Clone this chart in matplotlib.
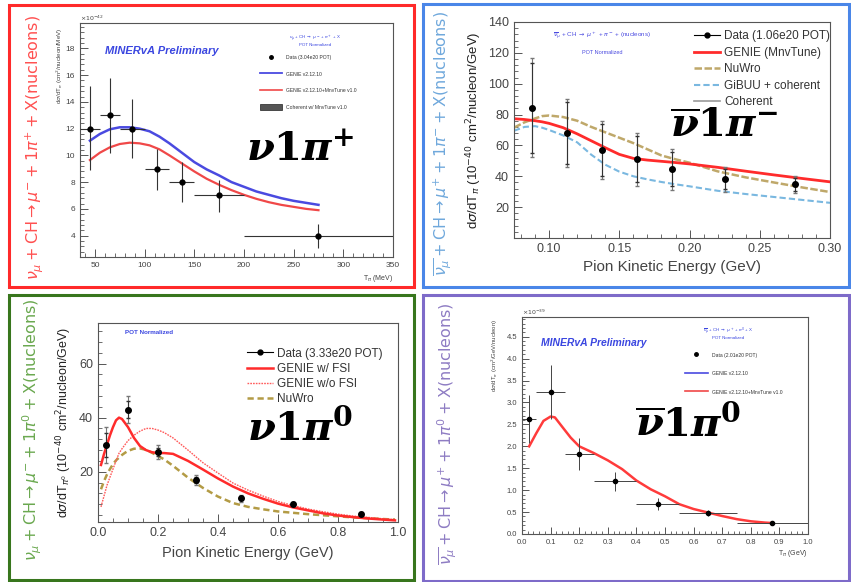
import matplotlib
matplotlib.use("Agg")
import matplotlib.pyplot as plt
from matplotlib.lines import Line2D
from matplotlib.patches import Rectangle, Patch
from matplotlib.ticker import MultipleLocator
import numpy as np

plt.rcParams['font.family'] = ['Liberation Sans', 'DejaVu Sans']

# ---------------- Panel 1: nu 1pi+ (MINERvA, MeV) ----------------
p1_data_x = [45, 65, 87.5, 112.5, 137.5, 175, 275]
p1_bin_lo = [35, 55, 75, 100, 125, 150, 200]
p1_bin_hi = [55, 75, 100, 125, 150, 200, 350]
p1_data_y = [12, 13, 12, 9, 8, 7, 4]
p1_err_lo = [8.9, 10.2, 9.8, 7.4, 6.5, 5.8, 3.1]
p1_err_hi = [15.2, 15.8, 14.2, 10.5, 9.5, 8.15, 4.9]
p1_curve_x = [45, 55, 65, 75, 85, 95, 105, 115, 125, 137.5, 150, 162.5, 175,
              187.5, 200, 212.5, 225, 237.5, 250, 262.5, 275]
p1_genie = [11.1, 11.6, 11.95, 12.1, 12.1, 12.0, 11.8, 11.4, 10.9, 10.2, 9.5,
            8.95, 8.5, 8.0, 7.65, 7.3, 7.05, 6.8, 6.6, 6.45, 6.3]
p1_tune = [9.65, 10.2, 10.6, 10.85, 10.95, 10.9, 10.75, 10.45, 10.0, 9.4, 8.8,
           8.25, 7.8, 7.4, 7.05, 6.75, 6.5, 6.3, 6.15, 6.0, 5.9]

# ---------------- Panel 2: nubar 1pi- ----------------
p2_data_x = [0.0875, 0.1125, 0.1375, 0.1625, 0.1875, 0.225, 0.275]
p2_data_y = [84.4, 68.0, 57.0, 51.0, 44.5, 38.0, 34.7]
p2_err_tot = [32, 22, 19, 17, 13.5, 8, 5.5]
p2_err_stat = [29, 20, 17, 15, 11, 6.5, 4]
p2_curve_x = [0.075, 0.0825, 0.09, 0.095, 0.10, 0.11, 0.12, 0.13, 0.14, 0.15,
              0.16, 0.17, 0.18, 0.19, 0.20, 0.22, 0.24, 0.26, 0.28, 0.30]
p2_genie = [77.3, 76.8, 76.0, 75.3, 74.3, 71.5, 67.5, 63.0, 58.5, 54.2,
            51.6, 50.5, 49.7, 48.9, 48.0, 45.8, 43.3, 40.9, 38.6, 36.4]
p2_nuwro = [71.5, 75.0, 77.5, 79.0, 79.4, 78.4, 76.0, 72.0, 68.5, 65.0,
            61.5, 57.5, 53.5, 51.0, 48.8, 43.2, 39.3, 36.0, 32.8, 29.8]
p2_gibuu = [69.5, 72.0, 72.5, 71.5, 70.0, 66.5, 62.0, 54.0, 47.5, 43.0,
            40.0, 38.0, 36.3, 34.8, 33.5, 30.6, 28.5, 26.6, 24.7, 22.8]

# ---------------- Panel 3: nu 1pi0 ----------------
p3_data_x = [0.025, 0.1, 0.2, 0.325, 0.475, 0.65, 0.875]
p3_data_y = [29.9, 42.9, 27.2, 16.9, 10.1, 8.0, 4.5]
p3_err_tot = [6.8, 5.0, 2.5, 1.8, 1.2, 0.8, 0.6]
p3_err_stat = [4.5, 3.2, 1.5, 1.1, 0.7, 0.5, 0.4]
p3_curve_x = [0.01, 0.02, 0.03, 0.04, 0.05, 0.06, 0.07, 0.08, 0.09, 0.10, 0.12,
              0.14, 0.16, 0.18, 0.20, 0.22, 0.25, 0.30, 0.35, 0.40, 0.45, 0.50,
              0.55, 0.60, 0.65, 0.70, 0.75, 0.80, 0.85, 0.90, 0.95, 0.99]
p3_fsi = [22.5, 26.5, 30.0, 33.5, 36.5, 39.0, 40.0, 39.5, 38.0, 36.5, 32.5,
          29.5, 28.0, 27.2, 26.9, 26.9, 26.6, 24.0, 20.8, 17.5, 14.5, 12.0,
          10.0, 8.2, 6.8, 5.7, 4.6, 3.8, 3.2, 2.7, 2.3, 2.0]
p3_nofsi = [7.0, 11.0, 15.0, 18.0, 21.0, 24.0, 26.8, 28.5, 30.0, 31.5, 33.5,
            35.0, 36.0, 36.0, 35.4, 34.5, 32.5, 28.0, 23.3, 19.5, 15.8, 13.2,
            11.0, 9.0, 7.5, 6.2, 5.2, 4.3, 3.6, 3.1, 2.6, 2.3]
p3_nuwro = [13.5, 16.5, 19.0, 21.0, 22.8, 24.2, 25.2, 26.2, 27.0, 27.7, 28.5,
            28.6, 28.1, 27.0, 25.8, 24.6, 22.2, 17.8, 14.0, 10.8, 8.4, 7.0,
            6.1, 5.3, 4.8, 4.3, 3.9, 3.5, 3.1, 2.8, 2.5, 2.3]

# ---------------- Panel 4: nubar 1pi0 ----------------
p4_data_x = [0.025, 0.1, 0.2, 0.325, 0.475, 0.65, 0.875]
p4_bin_lo = [0.0, 0.05, 0.15, 0.25, 0.4, 0.55, 0.75]
p4_bin_hi = [0.05, 0.15, 0.25, 0.4, 0.55, 0.75, 1.0]
p4_data_y = [2.62, 3.24, 1.82, 1.20, 0.68, 0.48, 0.26]
p4_err = [0.55, 0.62, 0.36, 0.22, 0.13, 0.06, 0.04]
p4_curve_x = [0.025, 0.05, 0.075, 0.1, 0.115, 0.14, 0.17, 0.2, 0.25, 0.3, 0.35,
              0.4, 0.45, 0.5, 0.55, 0.6, 0.65, 0.7, 0.75, 0.8, 0.85, 0.875]
p4_tune = [2.0, 2.3, 2.58, 2.68, 2.66, 2.45, 2.2, 2.0, 1.85, 1.68, 1.48,
           1.22, 1.02, 0.86, 0.68, 0.57, 0.49, 0.41, 0.34, 0.29, 0.26, 0.25]

W, H = 851, 582
fig = plt.figure(figsize=(W / 100, H / 100), dpi=100)


def px_axes(l, t, r, b):
    return fig.add_axes([l / W, 1 - b / H, (r - l) / W, (b - t) / H])


def style(ax, fs, major_len=6, minor_len=3):
    for s in ax.spines.values():
        s.set_color('#555555')
        s.set_linewidth(0.8)
    ax.tick_params(which='both', direction='in', color='#555555',
                   labelcolor='#444444', labelsize=fs, top=False, right=False)
    ax.tick_params(which='major', length=major_len, width=0.7)
    ax.tick_params(which='minor', length=minor_len, width=0.6)


def border(l, t, r, b, color):
    fig.patches.append(Rectangle((l / W, 1 - b / H), (r - l) / W, (b - t) / H,
                                 transform=fig.transFigure, fill=False,
                                 edgecolor=color, linewidth=2.2))


def side_label(x, y, s, color):
    fig.text(x / W, 1 - y / H, s, rotation=90, ha='center', va='center',
             color=color, fontsize=11.5, math_fontfamily='dejavusans')


def big_label(x, y, s):
    fig.text(x / W, 1 - y / H, s, ha='center', va='center', color='black',
             fontsize=29, math_fontfamily='dejavuserif')


# borders
border(8.5, 5.5, 414, 287, '#ff2a2a')
border(423, 3.5, 848.5, 287, '#4a86e8')
border(8.5, 294.5, 414, 580, '#38761d')
border(423, 294.5, 848.5, 580.5, '#7e6bc9')

# ---------------- Panel 1 ----------------
ax1 = px_axes(80, 23, 393, 257)
x = np.array(p1_data_x); y = np.array(p1_data_y)
ax1.errorbar(x, y, xerr=[x - np.array(p1_bin_lo), np.array(p1_bin_hi) - x],
             yerr=[y - np.array(p1_err_lo), np.array(p1_err_hi) - y],
             fmt='o', ms=3.5, color='black', ecolor='#333333', elinewidth=0.8,
             capsize=0, zorder=5)
ax1.plot(p1_curve_x, p1_genie, color='#4a4ae0', lw=1.8)
ax1.plot(p1_curve_x, p1_tune, color='#f04848', lw=1.6)
ax1.set_xlim(35, 350)
ax1.set_ylim(2.4, 19.9)
ax1.xaxis.set_major_locator(MultipleLocator(50))
ax1.xaxis.set_minor_locator(MultipleLocator(10))
ax1.yaxis.set_major_locator(MultipleLocator(2))
ax1.yaxis.set_minor_locator(MultipleLocator(0.4))
ax1.set_yticks([4, 6, 8, 10, 12, 14, 16, 18])
style(ax1, 6)
ax1.text(0.0, 1.0, r'$\times10^{-42}$', transform=ax1.transAxes, fontsize=4.5,
         color='#444444', ha='left', va='bottom', math_fontfamily='dejavusans')
ax1.text(-0.065, 0.98, r'd$\sigma$/dT$_{\pi}$ (cm$^{2}$/nucleon/MeV)',
         transform=ax1.transAxes, rotation=90, fontsize=4.5, color='#444444',
         ha='center', va='top', math_fontfamily='dejavusans')
ax1.text(1.0, -0.07, r'T$_{\pi}$ (MeV)', transform=ax1.transAxes, fontsize=5,
         color='#444444', ha='right', va='top', math_fontfamily='dejavusans')
ax1.text(0.08, 0.88, 'MINERvA Preliminary', transform=ax1.transAxes,
         fontsize=8, color='#3a46e0', style='italic', weight='bold',
         ha='left', va='center')
ax1.text(0.75, 0.935, r'$\nu_\mu$ + CH $\rightarrow$ $\mu^-$ + $\pi^+$ + X',
         transform=ax1.transAxes, fontsize=3.2, color='#3a46e0', ha='center',
         va='center', math_fontfamily='dejavusans')
ax1.text(0.75, 0.905, 'POT Normalized', transform=ax1.transAxes, fontsize=3.2,
         color='#3a46e0', ha='center', va='center')
h1 = [Line2D([], [], marker='o', ls='none', color='black', ms=2.5),
      Line2D([], [], color='#4a4ae0', lw=1.3),
      Line2D([], [], color='#f04848', lw=1.2),
      Patch(facecolor='#555555', edgecolor='#222222', lw=0.5)]
l1 = ['Data (3.04e20 POT)', 'GENIE v2.12.10', 'GENIE v2.12.10+MnvTune v1.0',
      'Coherent w/ MnvTune v1.0']
ax1.legend(h1, l1, loc='upper left', bbox_to_anchor=(0.56, 0.885),
           frameon=False, fontsize=3.6, handlelength=4.5, handleheight=1.6,
           labelspacing=2.0, handletextpad=0.8, labelcolor='#333333')

# ---------------- Panel 2 ----------------
ax2 = px_axes(514, 22, 830, 238)
ax2.plot(p2_curve_x, p2_gibuu, color='#7ab8e0', lw=1.5, ls=(0, (3, 1.5)))
ax2.plot(p2_curve_x, p2_nuwro, color='#bfa86a', lw=1.8, ls=(0, (3, 1)))
ax2.plot(p2_curve_x, p2_genie, color='#ff2b2b', lw=2.0)
ax2.errorbar(p2_data_x, p2_data_y, yerr=p2_err_tot, fmt='none',
             ecolor='#777777', elinewidth=0.8, capsize=1.5, zorder=5)
ax2.errorbar(p2_data_x, p2_data_y, yerr=p2_err_stat, fmt='o', ms=4,
             color='black', ecolor='#333333', elinewidth=0.8, capsize=1.5,
             zorder=6)
ax2.set_xlim(0.075, 0.30)
ax2.set_ylim(0, 140)
ax2.xaxis.set_major_locator(MultipleLocator(0.05))
ax2.xaxis.set_minor_locator(MultipleLocator(0.01))
ax2.yaxis.set_major_locator(MultipleLocator(20))
ax2.yaxis.set_minor_locator(MultipleLocator(4))
ax2.set_yticks([20, 40, 60, 80, 100, 120, 140])
ax2.set_xticks([0.10, 0.15, 0.20, 0.25, 0.30])
ax2.set_xticklabels(['0.10', '0.15', '0.20', '0.25', '0.30'])
style(ax2, 9)
ax2.set_xlabel('Pion Kinetic Energy (GeV)', fontsize=11, color='#444444',
               labelpad=4)
ax2.set_ylabel(r'd$\sigma$/dT$_{\pi}$ (10$^{-40}$ cm$^{2}$/nucleon/GeV)',
               fontsize=9.5, color='#222222', labelpad=3,
               math_fontfamily='dejavusans')
ax2.text(0.28, 0.935,
         r'$\overline{\nu}_\mu$ + CH $\rightarrow$ $\mu^+$ + $\pi^-$ + (nucleons)',
         transform=ax2.transAxes, fontsize=4.5, color='#4a4ae0', ha='center',
         va='center', math_fontfamily='dejavusans')
ax2.text(0.28, 0.86, 'POT Normalized', transform=ax2.transAxes, fontsize=4,
         color='#4a4ae0', ha='center', va='center')
h2 = [Line2D([], [], marker='o', color='black', ms=3.5, lw=0.8,
             markeredgecolor='black'),
      Line2D([], [], color='#ff2b2b', lw=2.0),
      Line2D([], [], color='#bfa86a', lw=1.8, ls=(0, (3, 1))),
      Line2D([], [], color='#7ab8e0', lw=1.5, ls=(0, (3, 1.5))),
      Line2D([], [], color='#999999', lw=1.2)]
l2 = ['Data (1.06e20 POT)', 'GENIE (MnvTune)', 'NuWro', 'GiBUU + coherent',
      'Coherent']
ax2.legend(h2, l2, loc='upper left', bbox_to_anchor=(0.535, 1.01),
           frameon=False, fontsize=8.5, handlelength=2.2, labelspacing=0.38,
           handletextpad=0.4, labelcolor='#333333')

# ---------------- Panel 3 ----------------
ax3 = px_axes(98, 323, 398, 522)
ax3.plot(p3_curve_x, p3_nuwro, color='#b39b45', lw=1.8, ls=(0, (2.5, 1.5)))
ax3.plot(p3_curve_x, p3_nofsi, color='#ff5a5a', lw=1.0, ls=(0, (1.2, 0.8)))
ax3.plot(p3_curve_x, p3_fsi, color='#ff2b2b', lw=1.8)
ax3.errorbar(p3_data_x, p3_data_y, yerr=p3_err_tot, fmt='none',
             ecolor='#777777', elinewidth=0.8, capsize=1.5, zorder=5)
ax3.errorbar(p3_data_x, p3_data_y, yerr=p3_err_stat, fmt='o', ms=4,
             color='black', ecolor='#333333', elinewidth=0.8, capsize=1.5,
             zorder=6)
ax3.set_xlim(0, 1.0)
ax3.set_ylim(1.4, 75)
ax3.xaxis.set_major_locator(MultipleLocator(0.2))
ax3.xaxis.set_minor_locator(MultipleLocator(0.05))
ax3.yaxis.set_major_locator(MultipleLocator(20))
ax3.yaxis.set_minor_locator(MultipleLocator(4))
ax3.set_xticks([0.0, 0.2, 0.4, 0.6, 0.8, 1.0])
ax3.set_yticks([20, 40, 60])
style(ax3, 9)
ax3.set_xlabel('Pion Kinetic Energy (GeV)', fontsize=10.5, color='#444444',
               labelpad=5)
ax3.set_ylabel(r'd$\sigma$/dT$_{\pi^0}$ (10$^{-40}$ cm$^{2}$/nucleon/GeV)',
               fontsize=9, color='#222222', labelpad=4,
               math_fontfamily='dejavusans')
ax3.text(0.09, 0.95, 'POT Normalized', transform=ax3.transAxes, fontsize=4.5,
         color='#3a46e0', ha='left', va='center', weight='bold')
h3 = [Line2D([], [], marker='o', color='black', ms=3.5, lw=0.8),
      Line2D([], [], color='#ff2b2b', lw=1.8),
      Line2D([], [], color='#ff5a5a', lw=1.0, ls=(0, (1.2, 0.8))),
      Line2D([], [], color='#b39b45', lw=1.8, ls=(0, (2.5, 1.5)))]
l3 = ['Data (3.33e20 POT)', 'GENIE w/ FSI', 'GENIE w/o FSI', 'NuWro']
ax3.legend(h3, l3, loc='upper left', bbox_to_anchor=(0.46, 0.93),
           frameon=False, fontsize=8.5, handlelength=2.2, labelspacing=0.28,
           handletextpad=0.4, labelcolor='#333333')

# ---------------- Panel 4 ----------------
ax4 = px_axes(522, 317, 808, 534)
x = np.array(p4_data_x)
ax4.errorbar(x, p4_data_y, xerr=[x - np.array(p4_bin_lo), np.array(p4_bin_hi) - x],
             yerr=p4_err, fmt='o', ms=3, color='black', ecolor='#444444',
             elinewidth=0.7, capsize=0, zorder=5)
ax4.plot(p4_curve_x, p4_tune, color='#ff3b3b', lw=1.8)
ax4.set_xlim(0, 1.0)
ax4.set_ylim(0, 4.95)
ax4.xaxis.set_major_locator(MultipleLocator(0.1))
ax4.xaxis.set_minor_locator(MultipleLocator(0.02))
ax4.yaxis.set_major_locator(MultipleLocator(0.5))
ax4.yaxis.set_minor_locator(MultipleLocator(0.1))
style(ax4, 5.5, major_len=5, minor_len=2.5)
ax4.text(0.0, 1.0, r'$\times10^{-39}$', transform=ax4.transAxes, fontsize=4.5,
         color='#444444', ha='left', va='bottom', math_fontfamily='dejavusans')
ax4.text(-0.095, 0.99, r'd$\sigma$/dT$_{\pi}$ (cm$^{2}$/GeV/nucleon)',
         transform=ax4.transAxes, rotation=90, fontsize=4.3, color='#444444',
         ha='center', va='top', math_fontfamily='dejavusans')
ax4.text(1.0, -0.065, r'T$_{\pi}$ (GeV)', transform=ax4.transAxes, fontsize=5,
         color='#444444', ha='right', va='top', math_fontfamily='dejavusans')
ax4.text(0.065, 0.88, 'MINERvA Preliminary', transform=ax4.transAxes,
         fontsize=7.5, color='#3a46e0', style='italic', weight='bold',
         ha='left', va='center')
ax4.text(0.72, 0.935, r'$\overline{\nu}_\mu$ + CH $\rightarrow$ $\mu^+$ + $\pi^0$ + X',
         transform=ax4.transAxes, fontsize=3.2, color='#3a46e0', ha='center',
         va='center', math_fontfamily='dejavusans')
ax4.text(0.72, 0.905, 'POT Normalized', transform=ax4.transAxes, fontsize=3.2,
         color='#3a46e0', ha='center', va='center')
h4 = [Line2D([], [], marker='o', ls='none', color='black', ms=2.5),
      Line2D([], [], color='#4a4ae0', lw=1.2),
      Line2D([], [], color='#f04848', lw=1.2)]
l4 = ['Data (2.01e20 POT)', 'GENIE v2.12.10', 'GENIE v2.12.10+MnvTune v1.0']
ax4.legend(h4, l4, loc='upper left', bbox_to_anchor=(0.555, 0.86),
           frameon=False, fontsize=3.6, handlelength=4.5, handleheight=1.6,
           labelspacing=2.4, handletextpad=0.8, labelcolor='#333333')

# ---------------- outer reaction labels ----------------
side_label(34, 147, r'$\nu_\mu + \mathrm{CH} \rightarrow \mu^{-} + 1\pi^{+} + \mathrm{X(nucleons)}$',
           '#ff5050')
side_label(442, 143, r'$\overline{\nu_\mu} + \mathrm{CH} \rightarrow \mu^{+} + 1\pi^{-} + \mathrm{X(nucleons)}$',
           '#6fa8dc')
side_label(32, 430, r'$\nu_\mu + \mathrm{CH} \rightarrow \mu^{-} + 1\pi^{0} + \mathrm{X(nucleons)}$',
           '#6aa84f')
side_label(447, 434, r'$\overline{\nu_\mu} + \mathrm{CH} \rightarrow \mu^{+} + 1\pi^{0} + \mathrm{X(nucleons)}$',
           '#8e7cc3')

# ---------------- big process labels ----------------
big_label(300, 150, r'$\mathbfit{\nu}\mathbf{1}\mathbfit{\pi}^{\mathbf{+}}$')
big_label(724, 126, r'$\overline{\mathbfit{\nu}}\mathbf{1}\mathbfit{\pi}^{\mathbf{-}}$')
big_label(300, 428, r'$\mathbfit{\nu}\mathbf{1}\mathbfit{\pi}^{\mathbf{0}}$')
big_label(688, 425, r'$\overline{\mathbfit{\nu}}\mathbf{1}\mathbfit{\pi}^{\mathbf{0}}$')

fig.savefig('out.png', dpi=100)
